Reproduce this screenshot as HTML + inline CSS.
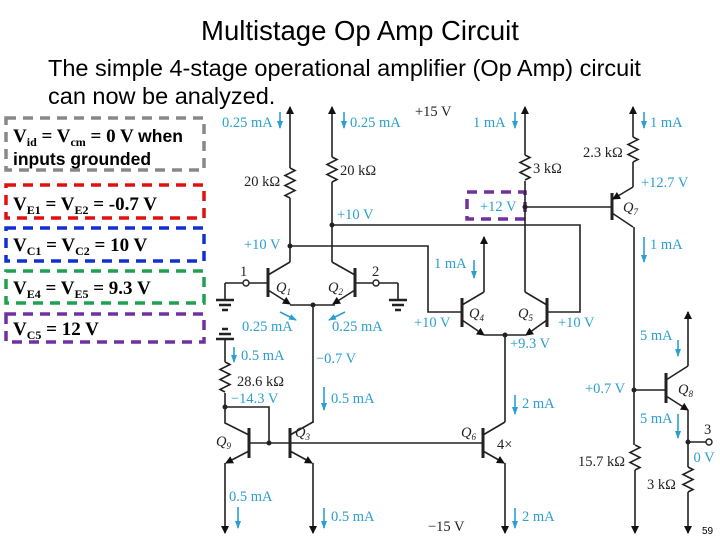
<!DOCTYPE html>
<html><head><meta charset="utf-8"><style>
body{margin:0;background:#fff;}
svg{display:block}
.s{font-family:"Liberation Sans",sans-serif}
.r{font-family:"Liberation Serif",serif}
.b{fill:#2a9fd0}
</style></head><body>
<svg width="720" height="540" viewBox="0 0 720 540" xmlns="http://www.w3.org/2000/svg">
<defs>
<marker id="ah" markerWidth="8" markerHeight="8" refX="7" refY="4" orient="auto" markerUnits="userSpaceOnUse"><path d="M0,0 L8,4 L0,8 Z" fill="#111"/></marker>
<marker id="bh" markerWidth="8" markerHeight="8" refX="7" refY="4" orient="auto" markerUnits="userSpaceOnUse"><path d="M0,1 L8,4 L0,7 Z" fill="#2a9fd0"/></marker>
</defs>
<text x="360" y="40" text-anchor="middle" class="s" font-size="27.5">Multistage Op Amp Circuit</text>
<text x="48" y="76" class="s" font-size="23.5">The simple 4-stage operational amplifier (Op Amp) circuit</text>
<text x="48" y="104" class="s" font-size="23.5">can now be analyzed.</text>

<g fill="none" stroke-width="3.5" stroke-dasharray="10,7">
<rect x="6" y="118" width="198" height="52" stroke="#888"/>
<rect x="6" y="185" width="198" height="33" stroke="#e01010"/>
<rect x="6" y="228" width="198" height="33" stroke="#1030d0"/>
<rect x="6" y="271" width="198" height="32" stroke="#20a050"/>
<rect x="6" y="314" width="198" height="28" stroke="#7030a0"/>
<rect x="467" y="192" width="58" height="27" stroke="#7030a0"/>
</g>
<g font-weight="bold" class="r" font-size="19">
<text x="13" y="142">V<tspan font-size="12" dy="4">id</tspan><tspan dy="-4"> = V</tspan><tspan font-size="12" dy="4">cm</tspan><tspan dy="-4"> = 0 V <tspan class="s" font-size="17.5">when</tspan></tspan></text>
<text x="13" y="165" class="s" font-size="17.5">inputs grounded</text>
<text x="13" y="210">V<tspan font-size="12" dy="4">E1</tspan><tspan dy="-4"> = V</tspan><tspan font-size="12" dy="4">E2</tspan><tspan dy="-4"> = -0.7 V</tspan></text>
<text x="13" y="251">V<tspan font-size="12" dy="4">C1</tspan><tspan dy="-4"> = V</tspan><tspan font-size="12" dy="4">C2</tspan><tspan dy="-4"> = 10 V</tspan></text>
<text x="13" y="294">V<tspan font-size="12" dy="4">E4</tspan><tspan dy="-4"> = V</tspan><tspan font-size="12" dy="4">E5</tspan><tspan dy="-4"> = 9.3 V</tspan></text>
<text x="13" y="335">V<tspan font-size="12" dy="4">C5</tspan><tspan dy="-4"> = 12 V</tspan></text>
</g>

<g stroke="#222" stroke-width="1.6" fill="none">
<line x1="290" y1="168" x2="290" y2="107" marker-end="url(#ah)"/>
<line x1="332" y1="157" x2="332" y2="107" marker-end="url(#ah)"/>
<line x1="525" y1="155" x2="525" y2="107" marker-end="url(#ah)"/>
<line x1="633" y1="137" x2="633" y2="107" marker-end="url(#ah)"/>
<path d="M290,168 l5,2.5 l-10,5 l10,5 l-10,5 l10,5 l-10,5 l5,2.5"/>
<path d="M332,157 l5,2.5 l-10,5 l10,5 l-10,5 l10,5 l-5,2.5"/>
<path d="M525,155 l5,2.5 l-10,5 l10,5 l-10,5 l10,5 l-5,2.5"/>
<path d="M633,137 l5,2.5 l-10,5 l10,5 l-10,5 l10,5 l-5,2.5"/>
<path d="M225,362 l5,2.5 l-10,5 l10,5 l-10,5 l10,5 l-10,5 l5,2.5"/>
<path d="M635,445 l5,2.5 l-10,5 l10,5 l-10,5 l10,5 l-5,2.5"/>
<path d="M688,467 l5,2.5 l-10,5 l10,5 l-10,5 l10,5 l-5,2.5"/>
<line x1="290" y1="198" x2="290" y2="262"/>
<line x1="332" y1="182" x2="332" y2="262"/>
<polyline points="290,246 428,246 428,312 462,312"/>
<polyline points="332,225 580,225 580,312 547,312"/>
<line x1="268" y1="268" x2="268" y2="297" stroke-width="3"/>
<polyline points="290,262 268,275"/>
<line x1="268" y1="290" x2="290" y2="304" marker-end="url(#ah)"/>
<line x1="225" y1="283" x2="268" y2="283"/>
<line x1="355" y1="268" x2="355" y2="297" stroke-width="3"/>
<polyline points="332,262 355,275"/>
<line x1="355" y1="290" x2="333" y2="304" marker-end="url(#ah)"/>
<line x1="355" y1="283" x2="398" y2="283"/>
<polyline points="290,305 335,305"/>
<line x1="313" y1="305" x2="313" y2="423"/>
<line x1="225" y1="283" x2="225" y2="299"/>
<line x1="216" y1="300" x2="234" y2="300" stroke-width="2.5"/><line x1="219" y1="305" x2="231" y2="305" stroke-width="2.5"/><line x1="222" y1="310" x2="228" y2="310" stroke-width="2.5"/>
<line x1="398" y1="283" x2="398" y2="299"/>
<line x1="389" y1="300" x2="407" y2="300" stroke-width="2.5"/><line x1="392" y1="305" x2="404" y2="305" stroke-width="2.5"/><line x1="395" y1="310" x2="401" y2="310" stroke-width="2.5"/>
<line x1="219" y1="334" x2="231" y2="334" stroke-width="2.5"/><line x1="216" y1="339" x2="234" y2="339" stroke-width="2.5"/><line x1="222" y1="329" x2="228" y2="329" stroke-width="2.5"/>
<line x1="225" y1="339" x2="225" y2="362"/>
<line x1="462" y1="298" x2="462" y2="327" stroke-width="3"/>
<line x1="484" y1="292" x2="484" y2="237" marker-end="url(#ah)"/>
<line x1="462" y1="305" x2="484" y2="292"/>
<line x1="462" y1="320" x2="484" y2="335" marker-end="url(#ah)"/>
<line x1="547" y1="298" x2="547" y2="327" stroke-width="3"/>
<line x1="525" y1="181" x2="525" y2="292"/>
<line x1="547" y1="305" x2="525" y2="292"/>
<line x1="547" y1="320" x2="526" y2="335" marker-end="url(#ah)"/>
<line x1="484" y1="335" x2="526" y2="335"/>
<line x1="505" y1="335" x2="505" y2="422"/>
<line x1="525" y1="207" x2="612" y2="207"/>
<line x1="612" y1="193" x2="612" y2="220" stroke-width="3"/>
<line x1="633" y1="162" x2="633" y2="187"/>
<line x1="633" y1="187" x2="613" y2="199" marker-end="url(#ah)"/>
<line x1="612" y1="213" x2="633" y2="227"/>
<line x1="634" y1="227" x2="634" y2="445"/>
<line x1="635" y1="470" x2="635" y2="533" marker-end="url(#ah)"/>
<line x1="634" y1="390" x2="666" y2="390"/>
<line x1="666" y1="373" x2="666" y2="403" stroke-width="3"/>
<line x1="666" y1="380" x2="688" y2="366"/>
<line x1="688" y1="366" x2="688" y2="312" marker-end="url(#ah)"/>
<line x1="666" y1="396" x2="688" y2="410" marker-end="url(#ah)"/>
<line x1="688" y1="410" x2="688" y2="467"/>
<line x1="688" y1="492" x2="688" y2="533" marker-end="url(#ah)"/>
<line x1="688" y1="442" x2="706" y2="442"/>
<polyline points="225,393 225,407 269,407 269,443"/>
<line x1="249" y1="443" x2="483" y2="443"/>
<line x1="249" y1="428" x2="249" y2="458" stroke-width="3"/>
<polyline points="225,407 225,423 249,435"/>
<line x1="249" y1="451" x2="226" y2="463" marker-end="url(#ah)"/>
<line x1="225" y1="463" x2="225" y2="533" marker-end="url(#ah)"/>
<line x1="290" y1="428" x2="290" y2="458" stroke-width="3"/>
<line x1="290" y1="435" x2="313" y2="422"/>
<line x1="290" y1="451" x2="312" y2="463" marker-end="url(#ah)"/>
<line x1="313" y1="463" x2="313" y2="533" marker-end="url(#ah)"/>
<line x1="483" y1="428" x2="483" y2="458" stroke-width="3"/>
<line x1="483" y1="435" x2="505" y2="422"/>
<line x1="483" y1="451" x2="504" y2="463" marker-end="url(#ah)"/>
<line x1="505" y1="463" x2="505" y2="533" marker-end="url(#ah)"/>
</g>
<g fill="#fff" stroke="#222" stroke-width="1.4">
<circle cx="246" cy="283" r="3"/><circle cx="376" cy="283" r="3"/><circle cx="709" cy="442" r="3"/>
</g>
<g fill="#222">
<circle cx="290" cy="246" r="2.5"/><circle cx="332" cy="225" r="2.5"/><circle cx="313" cy="305" r="2.5"/>
<circle cx="505" cy="335" r="2.5"/><circle cx="525" cy="207" r="2.5"/><circle cx="634" cy="390" r="2.5"/>
<circle cx="688" cy="442" r="2.5"/><circle cx="225" cy="407" r="2.5"/><circle cx="269" cy="443" r="2.5"/>
</g>
<g stroke="#2a9fd0" stroke-width="1.6">
<line x1="280" y1="112" x2="280" y2="128" marker-end="url(#bh)"/>
<line x1="344" y1="112" x2="344" y2="128" marker-end="url(#bh)"/>
<line x1="515" y1="112" x2="515" y2="128" marker-end="url(#bh)"/>
<line x1="644" y1="112" x2="644" y2="128" marker-end="url(#bh)"/>
<line x1="644" y1="237" x2="644" y2="262" marker-end="url(#bh)"/>
<line x1="474" y1="260" x2="474" y2="278" marker-end="url(#bh)"/>
<line x1="280" y1="312" x2="296" y2="320" marker-end="url(#bh)"/>
<line x1="345" y1="312" x2="329" y2="320" marker-end="url(#bh)"/>
<line x1="678" y1="340" x2="678" y2="356" marker-end="url(#bh)"/>
<line x1="678" y1="414" x2="678" y2="438" marker-end="url(#bh)"/>
<line x1="234" y1="347" x2="234" y2="362" marker-end="url(#bh)"/>
<line x1="324" y1="387" x2="324" y2="410" marker-end="url(#bh)"/>
<line x1="515" y1="395" x2="515" y2="414" marker-end="url(#bh)"/>
<line x1="238" y1="507" x2="238" y2="528" marker-end="url(#bh)"/>
<line x1="324" y1="508" x2="324" y2="528" marker-end="url(#bh)"/>
<line x1="515" y1="508" x2="515" y2="528" marker-end="url(#bh)"/>
</g>
<g class="r" font-size="14.5">
<g class="b">
<text x="222" y="127">0.25 mA</text>
<text x="350" y="127">0.25 mA</text>
<text x="473" y="127">1 mA</text>
<text x="650" y="127">1 mA</text>
<text x="337" y="219">+10 V</text>
<text x="244" y="249">+10 V</text>
<text x="480" y="211">+12 V</text>
<text x="641" y="187">+12.7 V</text>
<text x="650" y="249">1 mA</text>
<text x="434" y="268">1 mA</text>
<text x="242" y="331">0.25 mA</text>
<text x="332" y="331">0.25 mA</text>
<text x="414" y="327">+10 V</text>
<text x="558" y="327">+10 V</text>
<text x="510" y="348">+9.3 V</text>
<text x="640" y="340">5 mA</text>
<text x="241" y="360">0.5 mA</text>
<text x="316" y="363">−0.7 V</text>
<text x="585" y="393">+0.7 V</text>
<text x="640" y="423">5 mA</text>
<text x="231" y="403">−14.3 V</text>
<text x="331" y="403">0.5 mA</text>
<text x="522" y="408">2 mA</text>
<text x="704" y="462" text-anchor="middle">0 V</text>
<text x="229" y="501">0.5 mA</text>
<text x="331" y="521">0.5 mA</text>
<text x="522" y="521">2 mA</text>
</g>
<g fill="#222">
<text x="415" y="116">+15 V</text>
<text x="244" y="186">20 kΩ</text>
<text x="340" y="175">20 kΩ</text>
<text x="533" y="173">3 kΩ</text>
<text x="583" y="157">2.3 kΩ</text>
<text x="237" y="386">28.6 kΩ</text>
<text x="578" y="466">15.7 kΩ</text>
<text x="647" y="489">3 kΩ</text>
<text x="428" y="531">−15 V</text>
<text x="240" y="276">1</text><text x="372" y="276">2</text><text x="704" y="434">3</text>
<text x="497" y="449">4×</text>
<g font-style="italic">
<text x="276" y="292">Q<tspan font-size="9" dy="3">1</tspan></text>
<text x="328" y="292">Q<tspan font-size="9" dy="3">2</tspan></text>
<text x="469" y="318">Q<tspan font-size="9" dy="3">4</tspan></text>
<text x="518" y="318">Q<tspan font-size="9" dy="3">5</tspan></text>
<text x="623" y="212">Q<tspan font-size="9" dy="3">7</tspan></text>
<text x="678" y="394">Q<tspan font-size="9" dy="3">8</tspan></text>
<text x="216" y="446">Q<tspan font-size="9" dy="3">9</tspan></text>
<text x="295" y="437">Q<tspan font-size="9" dy="3">3</tspan></text>
<text x="461" y="437">Q<tspan font-size="9" dy="3">6</tspan></text>
</g>
</g>
</g>
<text x="702" y="534" class="s" font-size="10">59</text>
</svg>
</body></html>
